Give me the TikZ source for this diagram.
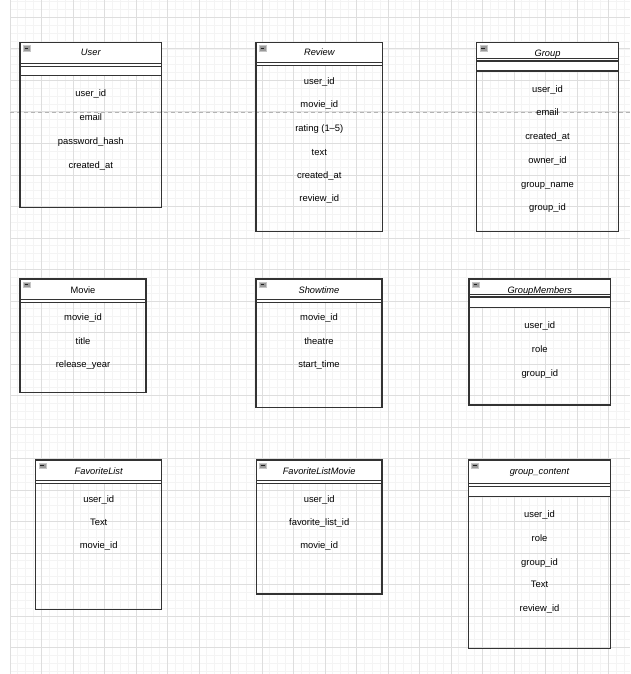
\documentclass[tikz,border=0pt]{standalone}
\usepackage{fontspec}
\setmainfont{Liberation Sans}
\definecolor{gridmajor}{HTML}{DEDEDE}
\definecolor{gridminor}{HTML}{F4F4F4}
\definecolor{boxline}{HTML}{333333}
\definecolor{dashcol}{HTML}{B4B4B4}
\definecolor{iconfill}{HTML}{9A9A9A}
\tikzset{
  entity/.style={draw=boxline, line width=1.3pt, inner sep=0pt, outer sep=0pt, anchor=north west},
  sepline/.style={draw=boxline, line width=1.1pt},
  titleit/.style={font=\fontsize{9.3}{11}\selectfont\itshape, anchor=base, inner sep=0pt},
  titleup/.style={font=\fontsize{9.3}{11}\selectfont, anchor=base, inner sep=0pt},
  attr/.style={font=\fontsize{9.4}{11}\selectfont, anchor=base, inner sep=0pt},
  iconbox/.style={fill=iconfill, draw=gray!45, line width=0.4pt},
  iconbar/.style={draw=gray!25!black, line width=0.9pt},
  minorgrid/.style={draw=gridminor, line width=0.8pt},
  majorgrid/.style={draw=gridmajor, line width=1pt},
  guide/.style={draw=dashcol, line width=0.9pt, dash pattern=on 4pt off 3pt},
}
% #1 name, #2 x1, #3 y1, #4 x2, #5 y2, #6 bottom of white header area
\newcommand\erframe[6]{%
  \fill[white] (#2,#3) rectangle (#4,#6);
  \node[entity, minimum width={(#4-#2)*1pt}, minimum height={(#5-#3)*1pt}] (#1) at (#2,#3) {};
  \path[iconbox] (#2+3,#3+2.8) rectangle (#2+10,#3+8.2);
  \path[iconbar] (#2+4.6,#3+5.5) -- (#2+8.4,#3+5.5);
}
\begin{document}
\begin{tikzpicture}[x=1pt,y=-1pt]
\useasboundingbox (0,0) rectangle (630,674);
\fill[white] (0,0) rectangle (630,674);
% grid
\foreach \i in {0,...,78} \draw[minorgrid] ({10+7.875*\i},0) -- ({10+7.875*\i},674);
\foreach \k in {0,...,85} \draw[minorgrid] (10,{1.75+7.875*\k}) -- (630,{1.75+7.875*\k});
\foreach \i in {0,...,19} \draw[majorgrid] ({10+31.5*\i},0) -- ({10+31.5*\i},674);
\foreach \k in {0,...,20} \draw[majorgrid] (10,{17.5+31.5*\k}) -- (630,{17.5+31.5*\k});
% dashed guide
\coordinate (dashL) at (10,112.8);
\coordinate (dashR) at (630,112.8);
\draw[guide] (dashL) -- (dashR);

% User
\erframe{user}{20}{42.7}{161.7}{207.7}{75.3}
\foreach \y in {63.3,66.3,75.3} \draw[sepline] (20,\y) -- (161.7,\y);
\node[titleit] (userT) at (90.8,56) {User};
\foreach \y/\t [count=\i] in {93/user\_id,117/email,141/password\_hash,165/created\_at}
  \node[attr] (user-a\i) at (90.8,\y+3.3) {\t};

% Review
\erframe{review}{256}{42.7}{382.7}{231.3}{65.7}
\foreach \y in {62.7,65.7} \draw[sepline] (256,\y) -- (382.7,\y);
\node[titleit] (reviewT) at (319.3,56) {Review};
\foreach \y/\t [count=\i] in {81/user\_id,104/movie\_id,128.3/rating (1--5),151.7/text,175/created\_at,198.3/review\_id}
  \node[attr] (review-a\i) at (319.3,\y+3.3) {\t};

% Group
\erframe{group}{476.7}{42.7}{618.3}{231.3}{71}
\foreach \y in {58.3,61,71} \draw[sepline] (476.7,\y) -- (618.3,\y);
\node[titleit] (groupT) at (547.5,56.3) {Group};
\foreach \y/\t [count=\i] in {89/user\_id,112/email,136/created\_at,160/owner\_id,184/group\_name,206.7/group\_id}
  \node[attr] (group-a\i) at (547.5,\y+3.3) {\t};

% Movie
\erframe{movie}{20}{279}{146}{392.3}{302.3}
\foreach \y in {299.7,302.3} \draw[sepline] (20,\y) -- (146,\y);
\node[titleup] (movieT) at (83,293) {Movie};
\foreach \y/\t [count=\i] in {316.7/movie\_id,340.7/title,364/release\_year}
  \node[attr] (movie-a\i) at (83,\y+3.3) {\t};

% Showtime
\erframe{showtime}{256}{279}{382}{407.7}{302.3}
\foreach \y in {299.7,302.3} \draw[sepline] (256,\y) -- (382,\y);
\node[titleit] (showtimeT) at (319,293) {Showtime};
\foreach \y/\t [count=\i] in {316.7/movie\_id,340.7/theatre,364/start\_time}
  \node[attr] (showtime-a\i) at (319,\y+3.3) {\t};

% GroupMembers
\erframe{groupmembers}{468.9}{279}{610.7}{405}{307.3}
\foreach \y in {294.3,297,307.3} \draw[sepline] (468.9,\y) -- (610.7,\y);
\node[titleit] (groupmembersT) at (539.8,293) {GroupMembers};
\foreach \y/\t [count=\i] in {324.7/user\_id,349.3/role,373/group\_id}
  \node[attr] (groupmembers-a\i) at (539.8,\y+3.3) {\t};

% FavoriteList
\erframe{favlist}{35.8}{460}{161.5}{609.7}{483.3}
\foreach \y in {480.7,483.3} \draw[sepline] (35.8,\y) -- (161.5,\y);
\node[titleit] (favlistT) at (98.7,474) {FavoriteList};
\foreach \y/\t [count=\i] in {498.7/user\_id,521.7/Text,545/movie\_id}
  \node[attr] (favlist-a\i) at (98.7,\y+3.3) {\t};

% FavoriteListMovie
\erframe{favlistmovie}{256.3}{460}{382}{594}{483.3}
\foreach \y in {480.7,483.3} \draw[sepline] (256.3,\y) -- (382,\y);
\node[titleit] (favlistmovieT) at (319.2,474) {FavoriteListMovie};
\foreach \y/\t [count=\i] in {498.7/user\_id,521.7/favorite\_list\_id,545/movie\_id}
  \node[attr] (favlistmovie-a\i) at (319.2,\y+3.3) {\t};

% group_content
\erframe{groupcontent}{468.3}{460}{610.7}{648.7}{496.3}
\foreach \y in {483.7,486.3,496.3} \draw[sepline] (468.3,\y) -- (610.7,\y);
\node[titleit] (groupcontentT) at (539.5,474) {group\_content};
\foreach \y/\t [count=\i] in {514/user\_id,537.7/role,562/group\_id,584.3/Text,607.7/review\_id}
  \node[attr] (groupcontent-a\i) at (539.5,\y+3.3) {\t};
\end{tikzpicture}
\end{document}
